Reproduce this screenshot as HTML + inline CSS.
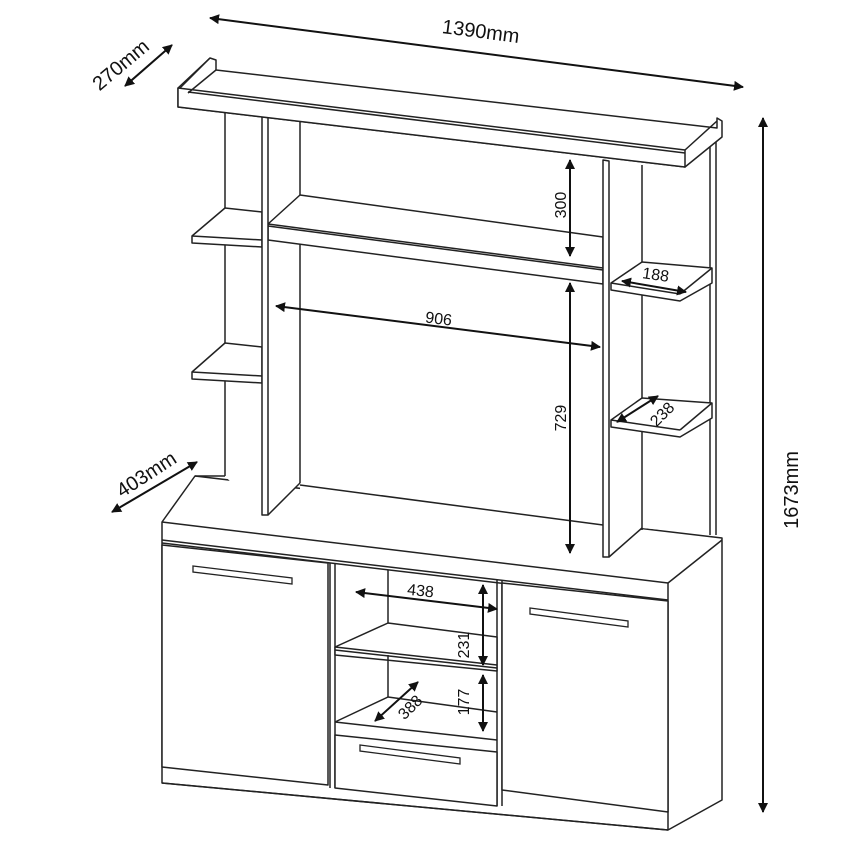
<!DOCTYPE html>
<html><head><meta charset="utf-8"><style>
html,body{margin:0;padding:0;background:#fff;width:863px;height:861px;overflow:hidden}
svg{display:block}
text{font-family:"Liberation Sans",sans-serif;font-size:20px;fill:#111}
.s{font-size:16px}
</style></head><body>
<svg width="863" height="861" viewBox="0 0 863 861" xmlns="http://www.w3.org/2000/svg">
<defs>
<marker id="a" viewBox="0 0 10 10" refX="9" refY="5" markerWidth="5" markerHeight="5" orient="auto-start-reverse"><path d="M0,0L10,5L0,10z" fill="#111"/></marker>
</defs>
<g fill="#fff" stroke="#222" stroke-width="1.5" stroke-linejoin="round">
<!-- base cabinet -->
<polygon points="162,522 195,476 722,538 722,800 668,830 162,783"/>
<line x1="162" y1="522" x2="668" y2="583"/>
<line x1="668" y1="583" x2="722" y2="540"/>
<line x1="668" y1="583" x2="668" y2="830"/>
<line x1="162" y1="540" x2="668" y2="600"/>
<line x1="162" y1="543" x2="668" y2="603"/>
<polygon points="162,545 328,563 328,785 162,767"/>
<line x1="162" y1="783" x2="668" y2="830"/>
<line x1="330" y1="563" x2="330" y2="788"/>
<line x1="335" y1="564" x2="335" y2="788"/>
<line x1="497" y1="580" x2="497" y2="806"/>
<line x1="502" y1="581" x2="502" y2="806"/>
<line x1="388" y1="570" x2="388" y2="625"/>
<polygon points="335,647 388,623 497,637 497,671 335,655"/>
<line x1="335" y1="647" x2="497" y2="665"/>
<line x1="335" y1="650" x2="497" y2="668"/>
<line x1="388" y1="655" x2="388" y2="697"/>
<line x1="388" y1="697" x2="497" y2="712"/>
<line x1="335" y1="722" x2="388" y2="697"/>
<line x1="335" y1="722" x2="497" y2="740"/>
<polygon points="335,735 497,752 497,806 335,788"/>
<polygon points="502,583 668,601 668,812 502,790"/>
<!-- hutch back area -->
<polygon points="225,108 716,140 716,535 642,528 609,557 603,557 300,518 300,483 268,515 262,515 225,476" stroke="none"/>
<line x1="195" y1="476" x2="225" y2="476"/>
<line x1="225" y1="108" x2="225" y2="476"/>
<line x1="300" y1="118" x2="300" y2="483"/>
<line x1="642" y1="165" x2="642" y2="530"/>
<line x1="710" y1="140" x2="710" y2="535"/>
<line x1="716" y1="140" x2="716" y2="535"/>
<line x1="300" y1="485" x2="603" y2="525"/>
<!-- left small shelves -->
<polygon points="192,236 225,208 262,212 262,247 192,243"/>
<line x1="192" y1="236" x2="262" y2="240"/>
<polygon points="192,372 225,343 262,347 262,383 192,379"/>
<line x1="192" y1="372" x2="262" y2="376"/>
<!-- middle shelf -->
<polygon points="268,224 300,195 603,237 603,284 268,240"/>
<line x1="268" y1="224" x2="603" y2="268"/>
<line x1="268" y1="226" x2="603" y2="270"/>
<!-- right small shelves -->
<polygon points="611,283 642,262 712,268 712,283 680,301 611,290"/>
<line x1="611" y1="283" x2="680" y2="294"/><line x1="680" y1="294" x2="712" y2="268"/>
<polygon points="611,420 642,398 712,403 712,418 680,437 611,427"/>
<line x1="611" y1="420" x2="680" y2="430"/><line x1="680" y1="430" x2="712" y2="403"/>
<!-- front uprights -->
<polygon points="262,115 268,116 268,515 262,515"/>
<line x1="268" y1="515" x2="300" y2="483"/>
<polygon points="603,160 609,161 609,557 603,557"/>
<line x1="609" y1="557" x2="642" y2="528"/>
<!-- top shelf -->
<polygon points="178,88 210,58 216,60 216,70 717,128 717,118 722,121 722,137 685,167 178,107"/>
<polygon points="178,88 685,150 685,167 178,107"/>
<line x1="188" y1="92" x2="685" y2="153"/>
<line x1="210" y1="58" x2="180" y2="88"/>
<line x1="216" y1="70" x2="188" y2="93"/>
<line x1="685" y1="150" x2="717" y2="121"/>
</g>
<!-- handles -->
<g fill="#fff" stroke="#222" stroke-width="1.3">
<polygon points="193,566 292,578 292,584 193,572"/>
<polygon points="530,608 628,621 628,627 530,614"/>
<polygon points="360,745 460,758 460,764 360,751"/>
</g>
<!-- dimension arrows -->
<g stroke="#111" stroke-width="2" marker-start="url(#a)" marker-end="url(#a)" fill="none">
<line x1="210" y1="18" x2="743" y2="87"/>
<line x1="125" y1="86" x2="172" y2="45"/>
<line x1="763" y1="118" x2="763" y2="812"/>
<line x1="112" y1="512" x2="197" y2="462"/>
<line x1="570" y1="160" x2="570" y2="256"/>
<line x1="276" y1="306" x2="600" y2="347"/>
<line x1="570" y1="283" x2="570" y2="553"/>
<line x1="622" y1="281" x2="686" y2="292"/>
<line x1="617" y1="422" x2="658" y2="396"/>
<line x1="356" y1="592" x2="497" y2="609"/>
<line x1="483" y1="585" x2="483" y2="665"/>
<line x1="483" y1="675" x2="483" y2="731"/>
<line x1="375" y1="721" x2="418" y2="682"/>
</g>
<text x="480" y="38" transform="rotate(7.4 480 38)" text-anchor="middle">1390mm</text>
<text x="125" y="70" transform="rotate(-40 125 70)" text-anchor="middle">270mm</text>
<text x="798" y="490" transform="rotate(-90 798 490)" text-anchor="middle">1673mm</text>
<text x="150" y="480" transform="rotate(-33 150 480)" text-anchor="middle">403mm</text>
<text class="s" x="566" y="205" transform="rotate(-90 566 205)" text-anchor="middle">300</text>
<text class="s" x="438" y="324" transform="rotate(7.2 438 324)" text-anchor="middle">906</text>
<text class="s" x="566" y="418" transform="rotate(-90 566 418)" text-anchor="middle">729</text>
<text class="s" x="655" y="280" transform="rotate(8 655 280)" text-anchor="middle">188</text>
<text class="s" x="666" y="418" transform="rotate(-45 666 418)" text-anchor="middle">238</text>
<text class="s" x="420" y="596" transform="rotate(6 420 596)" text-anchor="middle">438</text>
<text class="s" x="469" y="645" transform="rotate(-90 469 645)" text-anchor="middle">231</text>
<text class="s" x="469" y="702" transform="rotate(-90 469 702)" text-anchor="middle">177</text>
<text class="s" x="414" y="711" transform="rotate(-45 414 711)" text-anchor="middle">388</text>
</svg>
</body></html>
